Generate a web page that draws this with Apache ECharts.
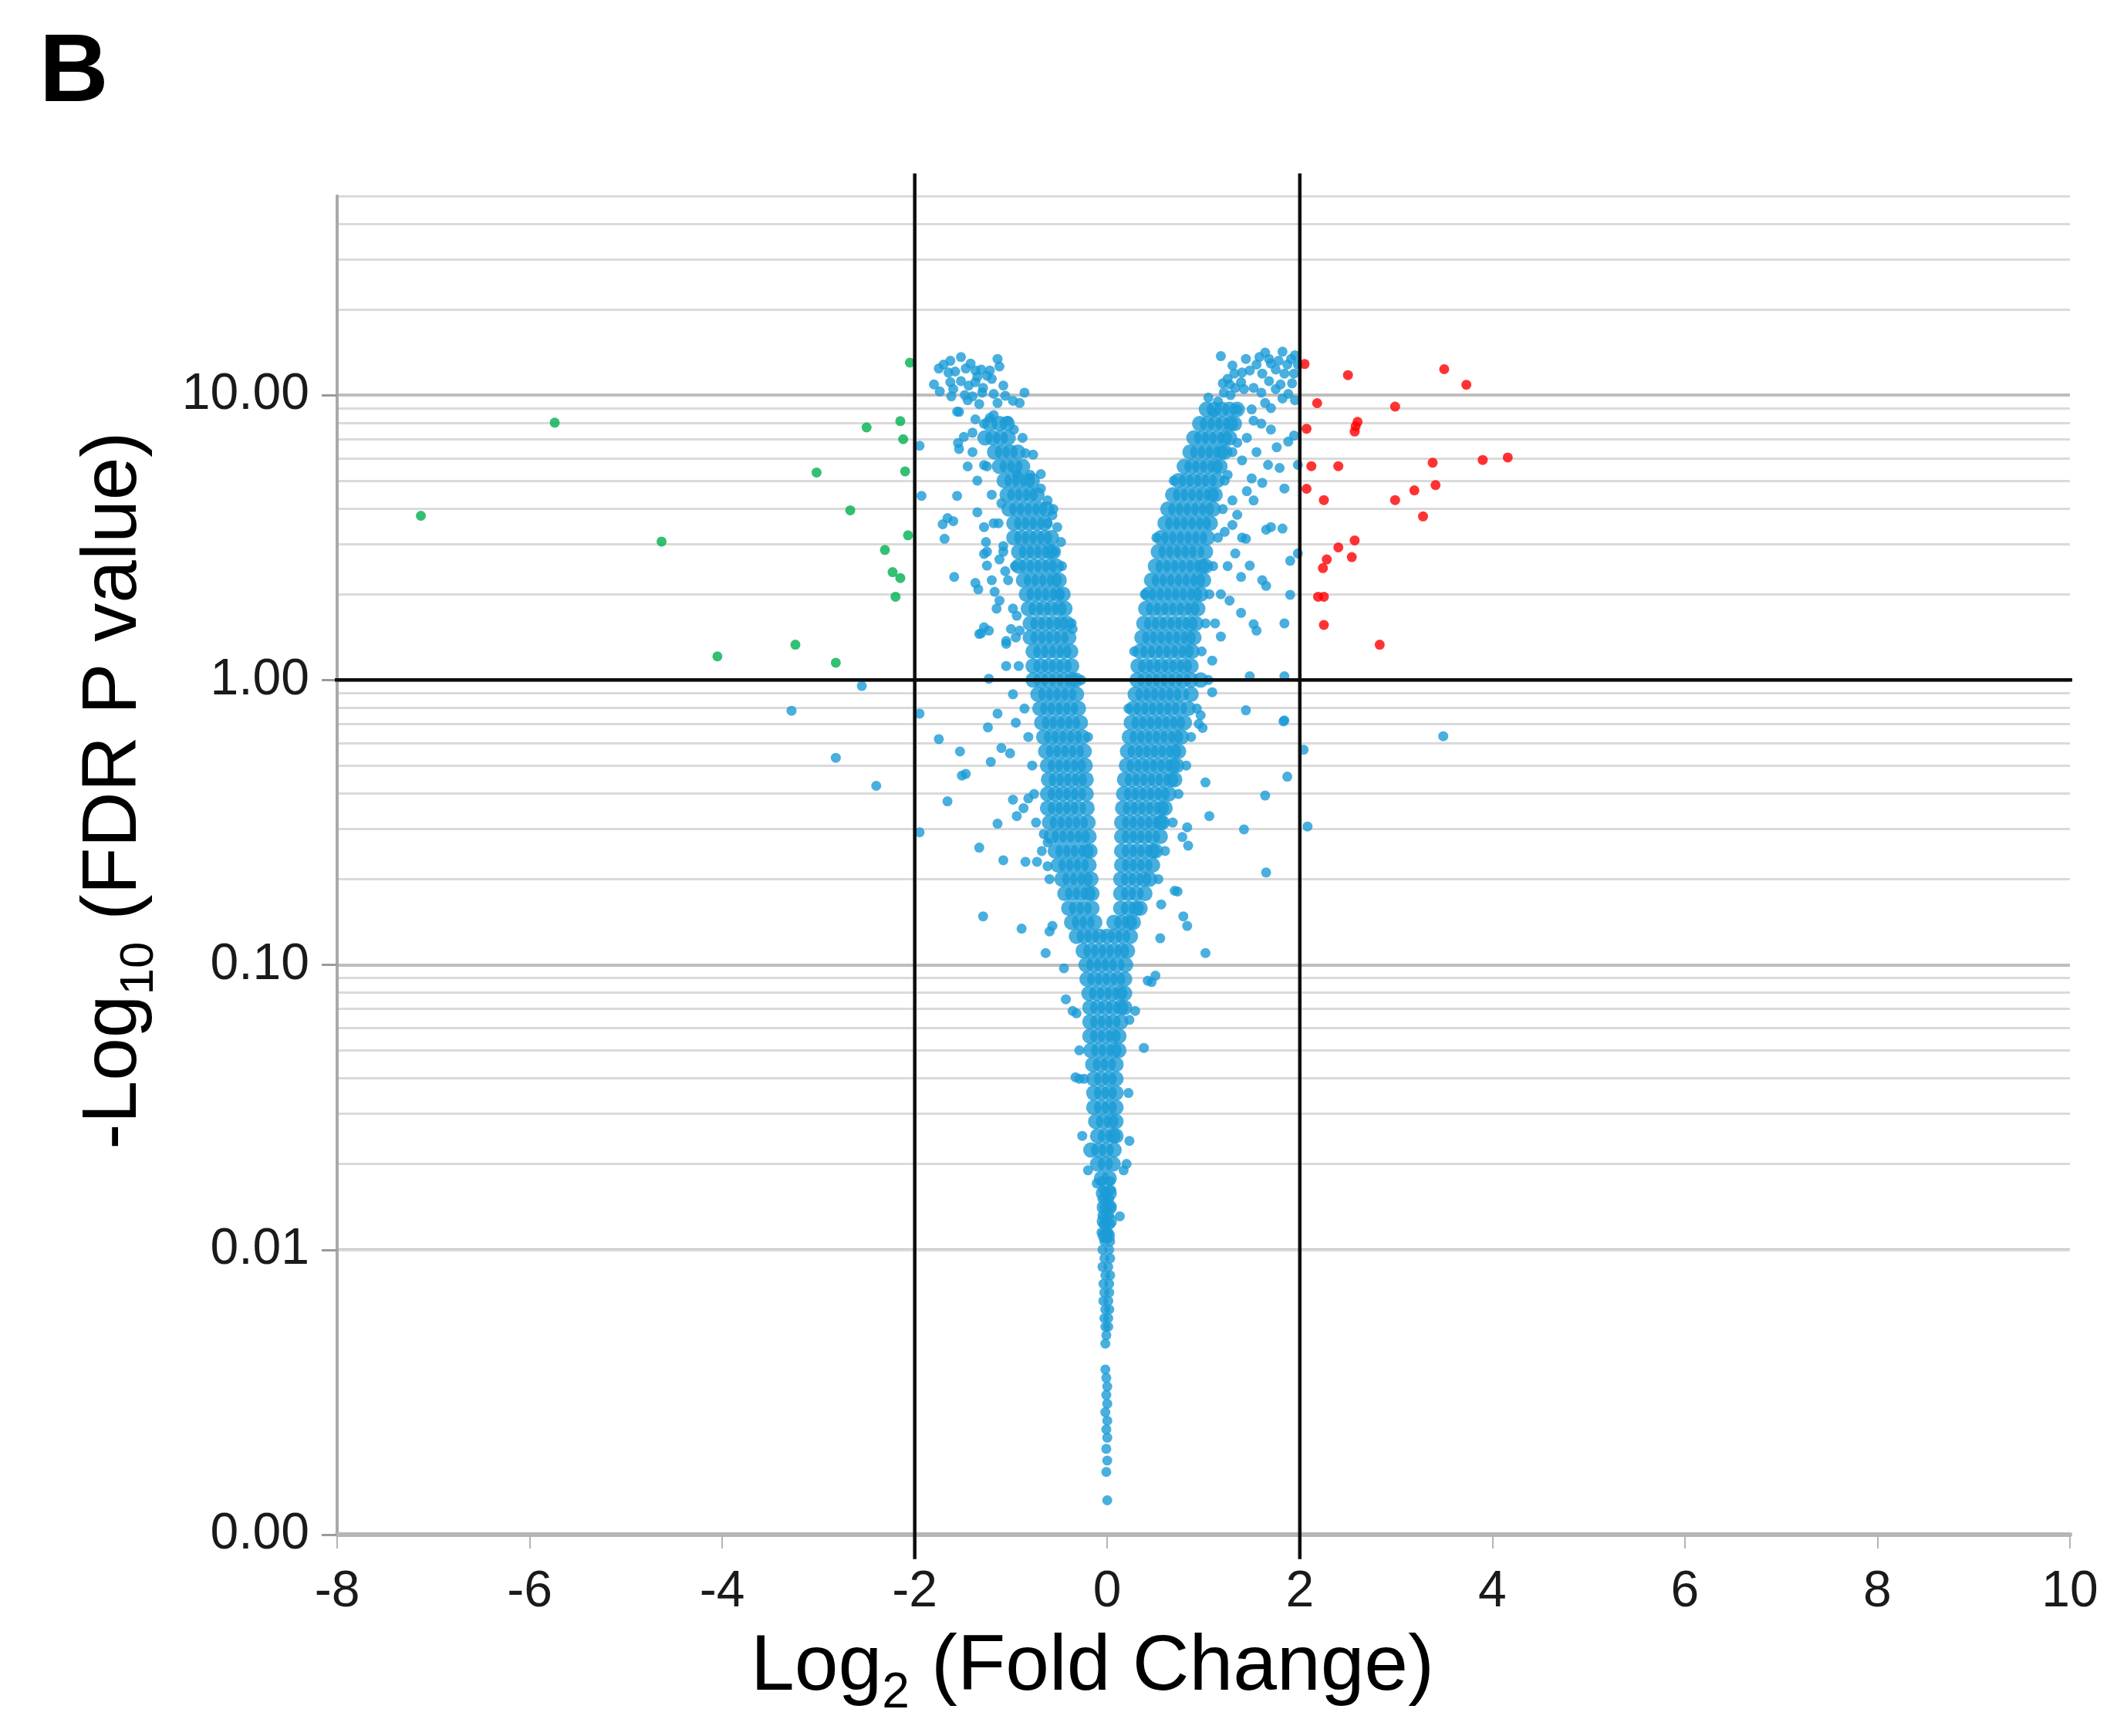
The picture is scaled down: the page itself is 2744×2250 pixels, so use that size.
<!DOCTYPE html>
<html><head><meta charset="utf-8">
<script src="https://cdn.jsdelivr.net/npm/echarts@6/dist/echarts.min.js"></script>
<style>html,body{margin:0;padding:0;background:#fff}#c{width:2744px;height:2250px}</style>
</head><body><div id="c"></div>
<script>
// ---------- axis values ----------
const xTickValues = [-8, -6, -4, -2, 0, 2, 4, 6, 8, 10];
const yTickLabels = [0.001, 0.01, 0.1, 1, 10];
const yMinorGrid = [0.002,0.003,0.004,0.005,0.006,0.007,0.008,0.009,
  0.02,0.03,0.04,0.05,0.06,0.07,0.08,0.09,
  0.2,0.3,0.4,0.5,0.6,0.7,0.8,0.9,
  2,3,4,5,6,7,8,9,20,30,40,50];
const foldChangeCutoffs = [-2, 2];
const pValueCutoff = 1;
const cutoffLineYSpan = [0.00082, 60];
const cutoffLineXSpan = [-8.2, 10.11];

// ---------- data: [log2 fold change, -log10 FDR value as plotted] ----------
const downRegulated = [[-2.05,13.0],[-5.74,8.0],[-7.13,3.77],[-4.63,3.06],[-2.50,7.7],[-2.15,8.1],[-2.12,7.0],
  [-3.02,5.35],[-2.10,5.4],[-2.67,3.94],[-2.07,3.22],[-2.31,2.86],[-2.23,2.39],[-2.15,2.28],[-2.20,1.96],
  [-3.24,1.33],[-4.05,1.21],[-2.82,1.15]];

const upRegulated = [[2.05,12.85],[2.50,11.75],[3.50,12.33],[3.73,10.87],[2.18,9.37],[2.99,9.11],[2.60,8.05],
  [2.57,7.45],[2.58,7.77],[2.07,7.62],[2.12,5.63],[2.40,5.63],[3.38,5.79],[3.90,5.92],[4.16,6.04],[2.07,4.69],
  [3.41,4.83],[3.19,4.63],[2.99,4.28],[2.25,4.28],[3.28,3.75],[2.57,3.09],[2.40,2.92],[2.54,2.70],[2.28,2.65],
  [2.24,2.47],[2.19,1.96],[2.25,1.96],[2.25,1.56],[2.83,1.33]];

// dense body of the volcano: [value, [fold changes at that value]]
const notSigDenseRows = [
  [8.91,[1.03,1.11,1.19,1.27,1.35]],
  [7.94,[-1.22,-1.12,-1.04,0.96,1.04,1.12,1.20,1.28,1.32]],
  [7.08,[-1.27,-1.19,-1.11,-1.03,0.90,0.98,1.06,1.14,1.22,1.27]],
  [6.31,[-1.17,-1.09,-1.01,-0.93,0.86,0.94,1.02,1.10,1.18,1.22]],
  [5.62,[-1.12,-1.04,-0.96,-0.88,0.80,0.88,0.96,1.04,1.12,1.17]],
  [5.01,[-1.07,-0.99,-0.91,-0.83,-0.78,0.74,0.82,0.90,0.98,1.06,1.14]],
  [4.47,[-1.04,-0.96,-0.88,-0.80,-0.73,0.68,0.76,0.84,0.92,1.00,1.08,1.12]],
  [3.98,[-1.02,-0.94,-0.86,-0.78,-0.70,-0.63,0.63,0.71,0.79,0.87,0.95,1.03,1.10]],
  [3.55,[-0.97,-0.89,-0.81,-0.73,-0.65,0.60,0.68,0.76,0.84,0.92,1.00,1.07]],
  [3.16,[-0.97,-0.89,-0.81,-0.73,-0.65,-0.58,0.56,0.64,0.72,0.80,0.88,0.96,1.04]],
  [2.82,[-0.92,-0.84,-0.76,-0.68,-0.60,-0.56,0.53,0.61,0.69,0.77,0.85,0.93,1.02]],
  [2.51,[-0.92,-0.84,-0.76,-0.68,-0.60,-0.53,0.50,0.58,0.66,0.74,0.82,0.90,0.98,1.02]],
  [2.24,[-0.87,-0.79,-0.71,-0.63,-0.55,-0.50,0.46,0.54,0.62,0.70,0.78,0.86,0.94,1.00]],
  [2.00,[-0.84,-0.76,-0.68,-0.60,-0.52,-0.46,0.43,0.51,0.59,0.67,0.75,0.83,0.91,0.97]],
  [1.78,[-0.82,-0.74,-0.66,-0.58,-0.50,-0.44,0.40,0.48,0.56,0.64,0.72,0.80,0.88,0.94]],
  [1.58,[-0.80,-0.72,-0.64,-0.56,-0.48,-0.42,0.38,0.46,0.54,0.62,0.70,0.78,0.86,0.92]],
  [1.41,[-0.80,-0.72,-0.64,-0.56,-0.48,-0.40,0.36,0.44,0.52,0.60,0.68,0.76,0.84,0.90]],
  [1.26,[-0.77,-0.69,-0.61,-0.53,-0.45,-0.38,0.34,0.42,0.50,0.58,0.66,0.74,0.82,0.88]],
  [1.12,[-0.77,-0.69,-0.61,-0.53,-0.45,-0.37,0.32,0.40,0.48,0.56,0.64,0.72,0.80,0.87]],
  [1.00,[-0.77,-0.69,-0.61,-0.53,-0.45,-0.37,-0.33,0.31,0.39,0.47,0.55,0.63,0.71,0.79,0.87,0.97]],
  [0.891,[-0.72,-0.64,-0.56,-0.48,-0.40,-0.32,0.29,0.37,0.45,0.53,0.61,0.69,0.77,0.87]],
  [0.794,[-0.70,-0.62,-0.54,-0.46,-0.38,-0.30,0.27,0.35,0.43,0.51,0.59,0.67,0.75,0.84]],
  [0.708,[-0.68,-0.60,-0.52,-0.44,-0.36,-0.28,0.25,0.33,0.41,0.49,0.57,0.65,0.73,0.80]],
  [0.631,[-0.66,-0.58,-0.50,-0.42,-0.34,-0.26,0.23,0.31,0.39,0.47,0.55,0.63,0.71,0.77]],
  [0.562,[-0.64,-0.56,-0.48,-0.40,-0.32,-0.24,0.21,0.29,0.37,0.45,0.53,0.61,0.69,0.74]],
  [0.501,[-0.62,-0.54,-0.46,-0.38,-0.30,-0.23,0.20,0.28,0.36,0.44,0.52,0.60,0.68,0.72]],
  [0.447,[-0.61,-0.53,-0.45,-0.37,-0.29,-0.22,0.18,0.26,0.34,0.42,0.50,0.58,0.66,0.70]],
  [0.398,[-0.62,-0.54,-0.46,-0.38,-0.30,-0.22,0.17,0.25,0.33,0.41,0.49,0.57,0.64]],
  [0.355,[-0.62,-0.54,-0.46,-0.38,-0.30,-0.21,0.16,0.24,0.32,0.40,0.48,0.56,0.60]],
  [0.316,[-0.60,-0.52,-0.44,-0.36,-0.28,-0.20,0.15,0.23,0.31,0.39,0.47,0.55,0.57]],
  [0.282,[-0.58,-0.50,-0.42,-0.34,-0.26,-0.19,0.15,0.23,0.31,0.39,0.47,0.55]],
  [0.251,[-0.54,-0.46,-0.38,-0.30,-0.22,-0.18,0.15,0.23,0.31,0.39,0.47,0.50]],
  [0.224,[-0.51,-0.43,-0.35,-0.27,-0.19,0.15,0.23,0.31,0.39,0.47]],
  [0.200,[-0.47,-0.39,-0.31,-0.23,-0.17,0.14,0.22,0.30,0.38,0.44]],
  [0.178,[-0.44,-0.36,-0.28,-0.20,-0.16,0.14,0.22,0.30,0.39]],
  [0.158,[-0.40,-0.32,-0.24,-0.16,0.14,0.22,0.30,0.34]],
  [0.141,[-0.37,-0.29,-0.21,-0.13,0.07,0.15,0.23,0.27]],
  [0.126,[-0.32,-0.24,-0.16,-0.08,0.00,0.08,0.16,0.24]],
  [0.112,[-0.25,-0.17,-0.09,-0.01,0.07,0.15,0.21]],
  [0.100,[-0.22,-0.14,-0.06,0.02,0.10,0.19]],
  [0.0891,[-0.21,-0.13,-0.05,0.03,0.11,0.18]],
  [0.0794,[-0.19,-0.11,-0.03,0.05,0.13,0.18]],
  [0.0708,[-0.18,-0.10,-0.02,0.06,0.14,0.18]],
  [0.0631,[-0.18,-0.10,-0.02,0.06,0.14]],
  [0.0562,[-0.18,-0.10,-0.02,0.06,0.12]],
  [0.0501,[-0.17,-0.09,-0.01,0.07,0.12]],
  [0.0447,[-0.15,-0.07,0.01,0.09]],
  [0.0398,[-0.14,-0.06,0.02,0.09]],
  [0.0355,[-0.14,-0.06,0.02,0.09]],
  [0.0316,[-0.14,-0.06,0.02,0.09]],
  [0.0282,[-0.12,-0.04,0.04,0.09]],
  [0.0251,[-0.10,-0.02,0.06,0.09]],
  [0.0224,[-0.17,-0.09,-0.01,0.07]],
  [0.0200,[-0.10,-0.02,0.06]],
  [0.0178,[-0.06,0.02]],
  [0.0158,[-0.04,0.02]],
  [0.0141,[-0.03,0.02]],
  [0.0126,[-0.03,0.02]],
  [0.0112,[-0.02,0.00]]
];

// individually visible not-significant genes
const notSigScatter = [
  [-1.52,13.6],[-1.63,13.2],[-1.70,12.8],[-1.75,12.4],[-1.14,13.4],[-1.31,12.3],[-1.37,12.2],[-1.25,11.7],
  [-1.80,10.9],[-1.74,10.3],[-1.63,11.1],[-1.52,11.2],[-1.44,10.8],[-1.37,11.1],[-1.29,10.6],[-1.20,11.4],
  [-1.08,10.8],[-1.06,9.95],[-1.14,9.38],[-0.91,9.38],[-1.54,8.73],[-1.37,8.22],[-1.28,7.93],[-1.18,8.51],
  [-1.03,8.12],[-0.97,7.57],[-1.49,7.13],[-1.55,6.79],[-1.40,7.38],[-1.54,6.47],[-1.28,5.68],[-0.85,6.25],
  [-0.77,6.18],[-0.69,5.28],[-0.94,5.28],[-0.69,4.70],[-0.62,4.27],[-0.57,3.79],[-0.52,3.44],[-0.48,3.05],
  [-1.28,3.44],[-1.26,3.05],[-1.35,3.88],[-1.28,2.77],[-1.37,2.19],[-1.34,2.08],[-1.17,2.04],[-1.25,2.52],
  [-1.12,2.65],[-1.06,2.41],[-1.12,1.90],[-1.31,1.46],[-1.28,1.53],[-1.23,1.49],[-1.05,1.34],[-0.94,1.68],
  [-0.91,1.49],[-1.23,1.01],[-1.59,2.30],[-1.66,3.70],[-1.60,3.61],[-1.71,3.52],[-1.69,3.13],[-1.56,4.43],
  [-1.93,4.43],[-1.95,6.64],[-1.56,8.75],[-1.33,1.45],
  [-1.40,6.31],[-1.45,5.62],[-1.35,5.01],[-1.22,8.32],[-1.25,2.82],[-1.20,2.24],[-1.15,1.78],[-1.05,1.12],
  [-0.98,0.891],[-0.95,0.708],[-1.10,4.17],[-1.18,3.55],[-0.98,9.55],[-0.88,7.08],[-0.80,5.25],[-0.62,3.55],
  [-0.55,2.82],[-0.50,2.00],[-0.36,1.51],[-1.00,1.51],[-0.96,2.51],[-1.08,2.95],[-1.45,9.6],[-1.62,9.9],
  [-1.33,9.3],[-0.86,10.2],[-1.12,12.6],[-1.42,12.9],[-1.58,12.1],
  [-1.65,12.0],[-1.47,12.4],[-1.35,11.6],[-1.22,12.2],[-1.60,10.5],[-1.48,10.0],[-1.30,10.2],[-1.18,10.1],
  [-1.40,9.9],[-1.25,5.62],[-1.20,4.47],[-1.13,3.55],[-1.08,2.82],[-1.03,2.24],[-0.98,1.78],[-0.95,1.41],
  [-0.92,1.12],[-0.86,0.794],[-0.82,0.631],[-0.78,0.501],[-0.76,0.398],[-0.74,0.316],[-0.68,0.251],
  [-0.60,0.200],[-0.56,3.98],[-0.47,2.51],[-0.37,1.58],[-0.27,1.00],[-0.20,0.631],
  [-2.55,0.953],[-3.28,0.78],[-2.82,0.533],[-2.40,0.425],[-1.95,0.762],[-1.95,0.292],[-1.75,0.62],
  [-1.66,0.375],[-1.53,0.561],[-1.51,0.462],[-1.47,0.468],[-1.33,0.258],[-1.29,0.148],[-1.24,0.682],
  [-1.14,0.762],[-1.21,0.516],[-1.10,0.577],[-1.01,0.553],[-1.14,0.313],[-1.08,0.233],[-0.89,0.134],
  [-0.98,0.380],[-0.87,0.355],[-0.85,0.230],[-0.73,0.230],[-0.64,0.110],[-0.45,0.0973],[-0.43,0.0757],
  [-0.32,0.0676],[-0.29,0.0501],[-0.29,0.0398],[-1.05,1.37],[-0.82,0.384],[-0.94,0.333],[-0.62,0.222],
  [-0.66,0.288],[-0.62,0.269],[-0.60,0.131],[-0.57,0.137],[-0.36,0.0689],[-0.33,0.0403],[-0.20,0.0190],
  [-0.11,0.0171],[-0.26,0.0251],[-0.24,0.0398],
  [1.18,13.7],[1.44,13.4],[1.64,14.1],[1.70,12.9],[1.82,14.2],[1.91,13.4],[1.98,12.8],[1.55,12.8],
  [1.32,11.9],[1.27,10.9],[1.21,10.2],[1.39,11.1],[1.52,10.6],[1.61,11.9],[1.75,12.3],[1.84,11.9],
  [1.94,11.9],[1.82,9.73],[1.64,9.38],[1.52,8.13],[1.70,7.57],[1.94,7.21],[1.88,6.87],[1.76,6.56],
  [1.98,5.69],[1.67,5.69],[1.79,5.55],[1.84,4.70],[1.61,4.92],[1.52,4.27],[1.70,3.44],[1.82,3.40],
  [1.65,3.37],[1.44,3.13],[1.33,2.78],[1.90,2.62],[1.98,2.78],[1.48,2.52],[1.61,2.24],[1.65,2.14],
  [1.39,2.30],[1.27,1.90],[1.39,1.72],[1.90,1.99],[1.84,1.58],[1.52,1.57],[1.55,1.49],[1.18,1.42],
  [1.09,1.17],[1.48,1.03],[1.84,1.03],
  [1.25,5.25],[1.30,4.27],[1.35,3.80],[1.22,3.31],[1.25,2.51],[1.18,2.00],[1.12,1.58],[1.40,3.16],
  [1.45,7.08],[1.55,6.31],[1.50,8.91],[1.60,7.94],[1.42,10.5],[1.35,8.91],[1.28,10.0],[1.15,9.50],
  [1.10,8.70],[1.05,9.80],[1.60,10.2],[1.70,9.00],[1.75,10.5],[1.88,10.1],[1.95,9.60],[1.40,5.90],
  [1.50,5.10],[1.35,6.80],[1.45,4.60],[1.30,3.50],
  [1.30,12.7],[1.48,12.2],[1.68,13.4],[1.78,13.2],[1.87,12.8],[1.95,13.8],[1.58,13.6],[1.40,12.0],
  [1.68,11.2],[1.80,10.9],[1.92,11.0],[1.25,11.4],[1.20,11.0],[1.33,10.6],
  [1.30,6.31],[1.22,5.01],[1.20,3.98],[1.15,3.16],[1.10,2.51],[1.06,2.00],[1.02,1.58],[0.98,1.26],
  [1.05,1.00],[0.93,0.794],[0.87,0.631],[0.82,0.501],[0.74,0.398],[0.68,0.316],[0.60,0.251],[0.53,0.200],
  [0.69,5.01],[0.51,3.16],[0.39,2.00],[0.28,1.26],[0.22,0.794],
  [1.44,0.783],[1.84,0.721],[1.02,0.437],[1.64,0.393],[1.87,0.458],[2.04,0.569],[1.09,0.906],[0.99,0.679],
  [2.08,0.306],[1.42,0.299],[1.65,0.211],[1.06,0.333],[1.02,0.110],[0.83,0.137],[0.73,0.181],[0.84,0.262],
  [0.78,0.281],[0.56,0.163],[0.55,0.124],[0.50,0.0916],[0.38,0.0511],[0.23,0.0641],[0.29,0.0689],
  [0.23,0.0241],[0.17,0.0190],[3.49,0.635],[1.83,0.716],[0.95,0.701],[0.97,0.752],[0.79,0.148],
  [0.70,0.182],[0.83,0.304],[0.42,0.0880],[0.46,0.0870],[0.20,0.0200],[0.22,0.0355],[0.13,0.0131],
  [-0.06,0.0174],[0.03,0.0174],[-0.04,0.0162],[0.04,0.0162],[-0.05,0.0151],[0.02,0.0151],[-0.03,0.0141],
  [0.04,0.0141],[-0.05,0.0132],[0.02,0.0132],[-0.04,0.0123],[0.03,0.0123],[-0.06,0.0115],[0.01,0.0115],
  [-0.03,0.0107],[0.03,0.0107],[-0.05,0.0100],[0.02,0.0100],[-0.03,0.00933],[0.03,0.00933],[-0.05,0.00871],
  [0.01,0.00871],[-0.02,0.00813],[0.03,0.00813],[-0.04,0.00759],[0.02,0.00759],[-0.03,0.00708],[0.02,0.00708],
  [-0.04,0.00661],[0.01,0.00661],[-0.02,0.00617],[0.02,0.00617],[-0.03,0.00575],[0.01,0.00575],[-0.02,0.00537],
  [0.01,0.00537],[-0.01,0.00501],[-0.02,0.00468],[-0.02,0.00380],[-0.01,0.00355],[0.00,0.00331],[-0.01,0.00309],
  [0.00,0.00288],[-0.02,0.00269],[0.00,0.00251],[-0.01,0.00234],[0.00,0.00219],[-0.01,0.00200],[0.00,0.00182],
  [-0.01,0.00166],[0.00,0.00132]
];

// ---------- build ----------
const FONT = "'Liberation Sans', Arial, sans-serif";
const BLUE = '#1a9bd7', GREEN = '#00b050', RED = '#ff0000';
const denseData = notSigDenseRows.flatMap(([y, xs]) => xs.map(x => [x, y]));
const isDecade = v => Math.abs(Math.log10(v) - Math.round(Math.log10(v))) < 1e-6;

const gridLineData = yTickLabels.map(v => ({ yAxis: v, lineStyle: { color: '#bdbdbd', width: 4, type: 'solid' } }))
  .concat(yMinorGrid.map(v => ({ yAxis: v, lineStyle: { color: '#dadada', width: 3, type: 'solid' } })));

const blackLine = { color: '#0d0d0d', width: 4.5 };
const cutoffSeries = foldChangeCutoffs.map(fc => ({
  type: 'line', data: cutoffLineYSpan.map(y => [fc, y]), clip: false, symbol: 'none',
  lineStyle: blackLine, zlevel: 1, z: 6, silent: true, animation: false
})).concat([{
  type: 'line', data: cutoffLineXSpan.map(x => [x, pValueCutoff]), clip: false, symbol: 'none',
  lineStyle: blackLine, zlevel: 1, z: 6, silent: true, animation: false
}]);

const chart = echarts.init(document.getElementById('c'), null, { renderer: 'canvas' });
chart.setOption({
  animation: false,
  backgroundColor: '#ffffff',
  title: { text: 'B', left: 46, top: 30, textStyle: { fontSize: 124, fontWeight: 'bold', color: '#000', fontFamily: FONT } },
  grid: { left: 437, right: 61, top: 254, bottom: 261, containLabel: false },
  xAxis: {
    type: 'value', min: -8, max: 10, interval: 2,
    name: '{t|Log}{s|2}{t| (Fold Change)}', nameLocation: 'middle', nameGap: 108,
    nameTextStyle: {
      padding: [0, 288, 0, 0],
      rich: {
        t: { fontSize: 102, fontFamily: FONT, color: '#000', lineHeight: 130, verticalAlign: 'middle' },
        s: { fontSize: 64, fontFamily: FONT, color: '#000', lineHeight: 64, verticalAlign: 'bottom' }
      }
    },
    axisLine: { show: true, onZero: false, lineStyle: { color: '#b5b5b5', width: 6 } },
    axisTick: { show: true, length: 18, lineStyle: { color: '#b5b5b5', width: 2 } },
    axisLabel: { fontSize: 66, color: '#1a1a1a', fontFamily: FONT, margin: 42, customValues: xTickValues },
    splitLine: { show: false }
  },
  yAxis: {
    type: 'log', logBase: 10, min: 0.001, max: 50,
    name: '{t|-Log}{s|10}{t| (FDR P value)}', nameLocation: 'middle', nameRotate: 90, nameGap: 225,
    nameTextStyle: {
      padding: [0, 0, 0, 194],
      rich: {
        t: { fontSize: 100, fontFamily: FONT, color: '#000', lineHeight: 128, verticalAlign: 'middle' },
        s: { fontSize: 62, fontFamily: FONT, color: '#000', lineHeight: 62, verticalAlign: 'bottom' }
      }
    },
    axisLine: { show: true, onZero: false, lineStyle: { color: '#a9a9a9', width: 4 } },
    axisTick: { show: true, length: 20, customValues: yTickLabels, lineStyle: { color: '#9a9a9a', width: 3 } },
    axisLabel: {
      customValues: yTickLabels, fontSize: 66, color: '#1a1a1a', fontFamily: FONT, margin: 36,
      formatter: v => isDecade(v) ? Number(v).toFixed(2) : ''
    },
    splitLine: { show: false }, minorTick: { show: false }, minorSplitLine: { show: false }
  },
  series: [
    {
      type: 'line', data: [], silent: true, z: 0, zlevel: 0, symbol: 'none',
      markLine: { z: 0, silent: true, symbol: ['none', 'none'], label: { show: false }, animation: false, data: gridLineData }
    },
    { name: 'Not significant (dense)', type: 'scatter', data: denseData, symbolSize: 20, itemStyle: { color: BLUE }, zlevel: 1, z: 2, silent: true },
    { name: 'Not significant', type: 'scatter', data: notSigScatter, symbolSize: 13, itemStyle: { color: BLUE }, zlevel: 1, z: 3, silent: true },
    { name: 'Down-regulated', type: 'scatter', data: downRegulated, symbolSize: 13, itemStyle: { color: GREEN }, zlevel: 1, z: 4, silent: true },
    { name: 'Up-regulated', type: 'scatter', data: upRegulated, symbolSize: 13, itemStyle: { color: RED }, zlevel: 1, z: 4, silent: true }
  ].concat(cutoffSeries)
});
</script>
</body></html>
